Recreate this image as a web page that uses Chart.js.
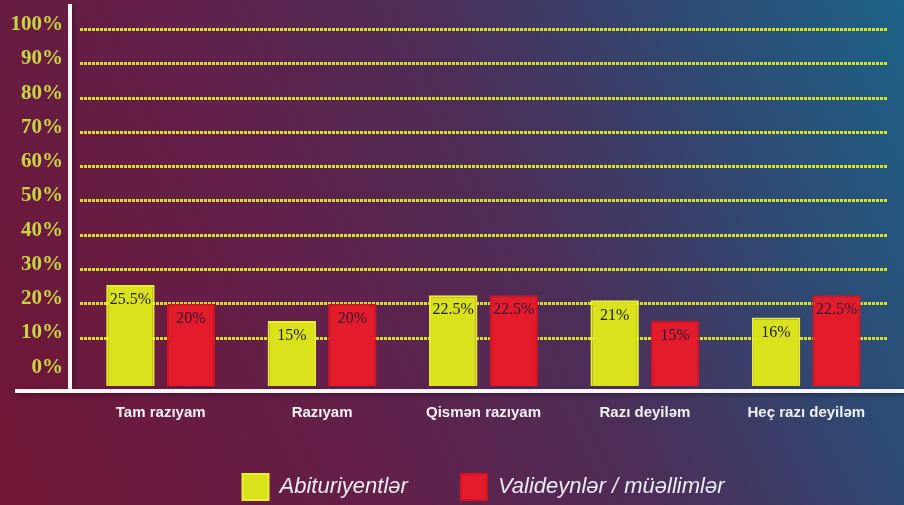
<!DOCTYPE html>
<html>
<head>
<meta charset="utf-8">
<script src="https://cdn.jsdelivr.net/npm/chart.js@4.4.1/dist/chart.umd.min.js"></script>
<style>
  html, body { margin: 0; padding: 0; }
  body {
    width: 904px; height: 505px; overflow: hidden;
    background: linear-gradient(65deg, #721636 0%, #62204a 35%, #4c2e58 58%, #2e4a74 80%, #1d6287 100%);
  }
  canvas { display: block; }
</style>
</head>
<body>
<canvas id="chart" width="904" height="505"></canvas>
<script>
// data
const categories = ['Tam razıyam', 'Razıyam', 'Qismən razıyam', 'Razı deyiləm', 'Heç razı deyiləm'];
const abituriyentler = [25.5, 15, 22.5, 21, 16];
const valideynler = [20, 20, 22.5, 15, 22.5];
const yTicks = [0, 10, 20, 30, 40, 50, 60, 70, 80, 90, 100];

const YELLOW = '#dae21c';
const RED = '#e31b2b';
const AXIS_MIN = -4;

// value labels inside the top of each bar
const barLabels = {
    id: 'barLabels',
    afterDatasetsDraw(chart) {
        const ctx = chart.ctx;
        ctx.save();
        ctx.font = '16px "Liberation Serif"';
        ctx.textAlign = 'center';
        ctx.textBaseline = 'middle';
        chart.data.datasets.forEach((ds, di) => {
            ctx.fillStyle = di === 0 ? '#1c1c1c' : '#2a1638';
            chart.getDatasetMeta(di).data.forEach((bar, i) => {
                ctx.fillText(ds.data[i] + '%', bar.x, bar.y + 15);
            });
        });
        ctx.restore();
    }
};

// white axis lines (offset from the plot like in the original)
const axisLines = {
    id: 'axisLines',
    afterDraw(chart) {
        const { ctx, chartArea: { left, bottom } } = chart;
        ctx.save();
        ctx.shadowColor = 'rgba(0,0,0,0.35)';
        ctx.shadowBlur = 4;
        ctx.shadowOffsetX = 2;
        ctx.shadowOffsetY = 2;
        ctx.fillStyle = '#f5f5f5';
        ctx.fillRect(left - 12, 4, 4, bottom - 1);
        ctx.fillRect(15, bottom + 3, chart.width - 15, 4);
        ctx.restore();
    }
};

new Chart(document.getElementById('chart'), {
    type: 'bar',
    data: {
        labels: categories,
        datasets: [
            {
                label: 'Abituriyentlər',
                data: abituriyentler,
                backgroundColor: YELLOW,
                borderColor: '#e8ee34',
                borderWidth: 2,
                base: AXIS_MIN
            },
            {
                label: 'Valideynlər / müəllimlər',
                data: valideynler,
                backgroundColor: RED,
                borderColor: '#d31424',
                borderWidth: 2,
                base: AXIS_MIN
            }
        ]
    },
    options: {
        responsive: false,
        animation: false,
        layout: { padding: { left: 10, right: 17, top: 25, bottom: -5 } },
        datasets: {
            bar: { categoryPercentage: 0.75, barPercentage: 0.8 }
        },
        plugins: {
            tooltip: { enabled: false },
            legend: {
                position: 'bottom',
                fullSize: false,
                labels: {
                    boxWidth: 26,
                    boxHeight: 26,
                    padding: 53,
                    color: '#ececf2',
                    font: { family: '"Liberation Sans"', size: 22, style: 'italic' }
                }
            }
        },
        scales: {
            x: {
                grid: { display: false },
                border: { display: false },
                ticks: {
                    color: '#f2f2f2',
                    padding: 10,
                    font: { family: '"Liberation Sans"', size: 15, weight: 'bold' }
                },
                afterFit: (scale) => { scale.height = 35; }
            },
            y: {
                min: AXIS_MIN,
                max: 100,
                afterBuildTicks: (scale) => {
                    scale.ticks = yTicks.map(v => ({ value: v }));
                },
                afterFit: (scale) => { scale.width = 70; },
                border: { display: false, dash: [3, 1] },
                grid: {
                    drawTicks: false,
                    lineWidth: 3,
                    color: (c) => c.tick && c.tick.value === 0 ? 'transparent' : '#d6e228'
                },
                ticks: {
                    color: '#c9d643',
                    padding: 17,
                    labelOffset: -5,
                    font: { family: '"Liberation Serif"', size: 21, weight: 'bold' },
                    callback: (v) => v + '%'
                }
            }
        }
    },
    plugins: [barLabels, axisLines]
});
</script>
</body>
</html>
